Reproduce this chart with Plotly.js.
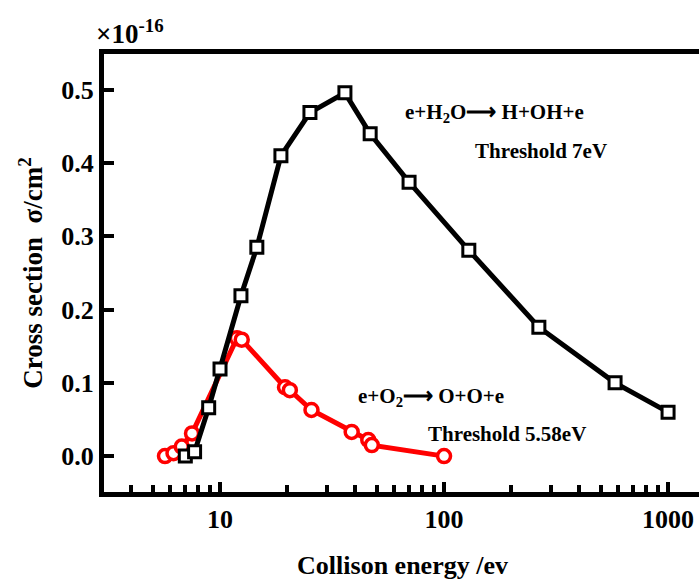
<!DOCTYPE html>
<html>
<head>
<meta charset="utf-8">
<script src="https://cdn.plot.ly/plotly-3.0.1.min.js"></script>
<style>
  html, body { margin: 0; padding: 0; overflow: hidden; background: #fff; }
  #chart { width: 701px; height: 580px; }
</style>
</head>
<body>
<div id="chart"></div>
<script>
// Electron-impact dissociation cross sections (units of 1e-16 cm^2)
const h2oEnergy = [7, 7.7, 8.9, 10, 12.4, 14.6, 18.7, 25.2, 36.1, 46.8, 69.8, 129, 265, 580, 1000];
const h2oSigma  = [0, 0.006, 0.066, 0.119, 0.219, 0.285, 0.41, 0.469, 0.496, 0.44, 0.374, 0.281, 0.176, 0.1, 0.06];

const o2Energy = [5.68, 6.2, 6.75, 7.5, 11.9, 12.5, 19.5, 20.5, 25.6, 38.7, 45.9, 47.6, 100];
const o2Sigma  = [0, 0.004, 0.013, 0.031, 0.161, 0.159, 0.094, 0.09, 0.063, 0.033, 0.022, 0.015, 0];

const xMajorTicks = [10, 100, 1000];
const xMajorLabels = ['10', '100', '1000'];
const xMinorTicks = [4, 5, 6, 7, 8, 9, 20, 30, 40, 50, 60, 70, 80, 90,
                     200, 300, 400, 500, 600, 700, 800, 900];
const yTicks = [0, 0.1, 0.2, 0.3, 0.4, 0.5];
const yLabels = ['0.0', '0.1', '0.2', '0.3', '0.4', '0.5'];

const FONT = 'Liberation Serif, Times New Roman, serif';

const traces = [
  {
    x: o2Energy, y: o2Sigma, type: 'scatter', mode: 'lines+markers',
    line: { color: '#ff0000', width: 5 },
    marker: { symbol: 'circle', size: 13, color: '#ffffff',
              line: { color: '#ff0000', width: 3.5 } },
    hoverinfo: 'x+y'
  },
  {
    x: h2oEnergy, y: h2oSigma, type: 'scatter', mode: 'lines+markers',
    line: { color: '#000000', width: 5 },
    marker: { symbol: 'square', size: 12, color: '#ffffff',
              line: { color: '#000000', width: 3 } },
    hoverinfo: 'x+y'
  }
];

// plot area spans 104..701 px horizontally, 54..492 px vertically
const L = 104, R = 701, T = 54, B = 492;
const px = v => (v - L) / (R - L);
const py = v => (B - v) / (B - T);

const annFont = { family: FONT, size: 21, color: '#000' };

const layout = {
  width: 701, height: 580,
  margin: { l: L, r: 0, t: T, b: 580 - B, pad: 0 },
  paper_bgcolor: '#fff', plot_bgcolor: '#fff',
  showlegend: false,
  font: { family: FONT, color: '#000' },
  xaxis: {
    type: 'log',
    range: [0.4821, 3.147],
    tickmode: 'array', tickvals: xMajorTicks, ticktext: xMajorLabels,
    ticks: 'inside', ticklen: 10, tickwidth: 4, tickcolor: '#000',
    minor: { tickmode: 'array', tickvals: xMinorTicks, ticks: 'inside',
             ticklen: 7, tickwidth: 4, tickcolor: '#000', showgrid: false },
    showline: true, linewidth: 5, linecolor: '#000', mirror: true,
    showgrid: false, zeroline: false,
    tickfont: { family: FONT, size: 26, color: '#000', weight: 'bold' },
    title: { text: '<b>Collison energy /ev</b>', standoff: 30,
             font: { family: FONT, size: 26, color: '#000' } }
  },
  yaxis: {
    range: [-0.049, 0.549],
    tickmode: 'array', tickvals: yTicks, ticktext: yLabels,
    ticks: 'inside', ticklen: 10, tickwidth: 4, tickcolor: '#000',
    showline: true, linewidth: 5, linecolor: '#000', mirror: true,
    showgrid: false, zeroline: false,
    tickfont: { family: FONT, size: 26, color: '#000', weight: 'bold' },
    title: { text: '<b>Cross section  \u03c3/cm<sup>2</sup></b>', standoff: 12,
             font: { family: FONT, size: 27, color: '#000' } }
  },
  annotations: [
    { xref: 'paper', yref: 'paper', x: px(94), y: py(32), xanchor: 'left', yanchor: 'middle',
      text: '<b>\u00d710<sup>-16</sup></b>', showarrow: false,
      font: { family: FONT, size: 27, color: '#000' } },
    { xref: 'paper', yref: 'paper', x: px(403), y: py(113), xanchor: 'left', yanchor: 'middle',
      text: '<b>e+H<sub>2</sub>O\u27f6 H+OH+e</b>', showarrow: false, font: annFont },
    { xref: 'paper', yref: 'paper', x: px(473), y: py(151), xanchor: 'left', yanchor: 'middle',
      text: '<b>Threshold 7eV</b>', showarrow: false, font: annFont },
    { xref: 'paper', yref: 'paper', x: px(356), y: py(397), xanchor: 'left', yanchor: 'middle',
      text: '<b>e+O<sub>2</sub>\u27f6 O+O+e</b>', showarrow: false, font: annFont },
    { xref: 'paper', yref: 'paper', x: px(426), y: py(434), xanchor: 'left', yanchor: 'middle',
      text: '<b>Threshold 5.58eV</b>', showarrow: false, font: annFont }
  ]
};

Plotly.newPlot('chart', traces, layout, { displayModeBar: false, staticPlot: true });
</script>
</body>
</html>
